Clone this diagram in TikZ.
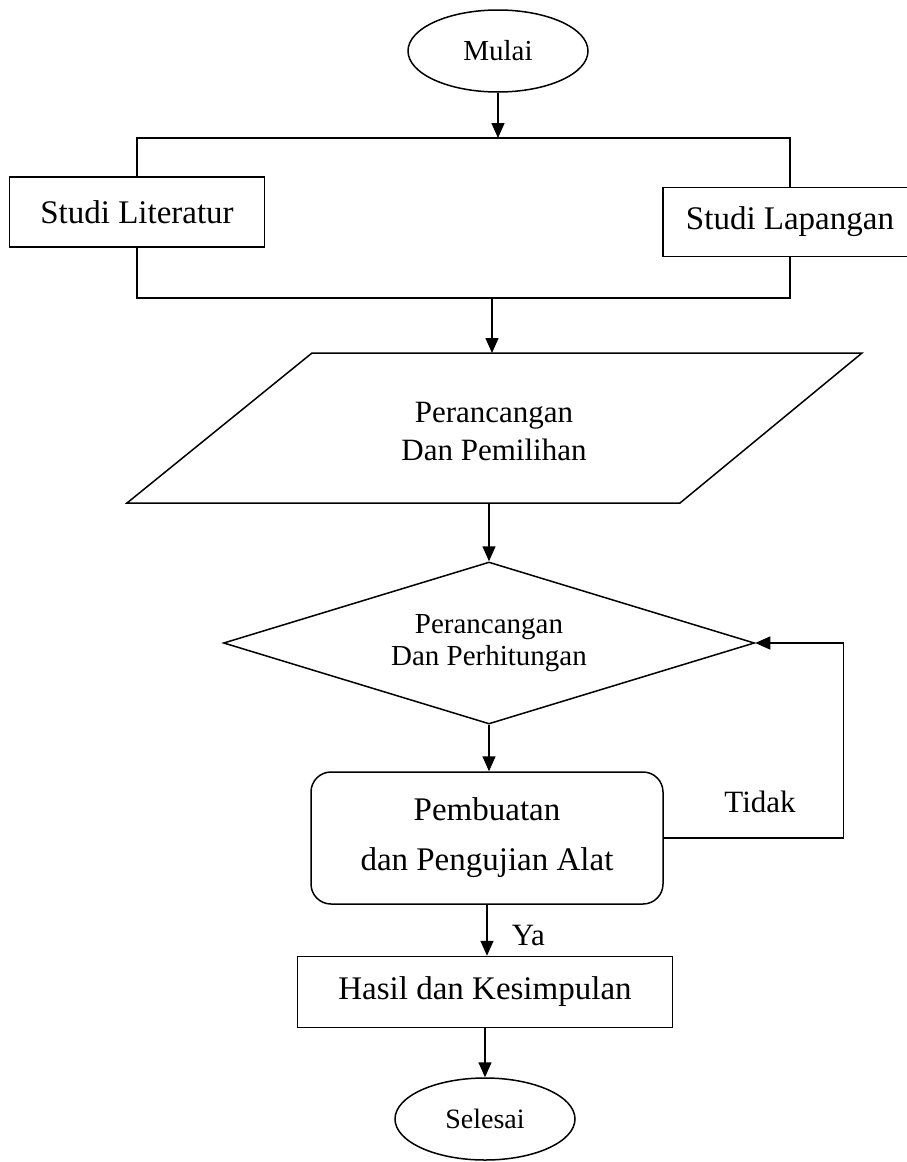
\documentclass[tikz,border=0pt]{standalone}
\usepackage{fontspec}
\setmainfont{Liberation Serif}
\usetikzlibrary{arrows.meta,positioning,shapes.geometric,calc}

\begin{document}
\begin{tikzpicture}[x=1pt,y=-1pt,line width=1.5pt,>={Triangle[length=15pt,width=13pt]},
        term/.style={draw,ellipse,fill=white,inner sep=0pt,minimum width=180pt,minimum height=82pt},
        proc/.style={draw,fill=white,inner sep=0pt,font=\fontsize{33}{40}\selectfont},
        dec/.style={draw,diamond,fill=white,inner sep=0pt,align=center,shape aspect=3.28,
                   minimum width=531pt,minimum height=162pt,font=\fontsize{29}{32}\selectfont},
        act/.style={draw,rounded corners=20pt,fill=white,inner sep=0pt,align=center,
                   minimum width=352pt,minimum height=132pt,font=\fontsize{33}{50}\selectfont},
        lbl/.style={inner sep=0pt,font=\fontsize{31}{37}\selectfont}]
  \fill[white] (0,0) rectangle (907,1162);
  \useasboundingbox (0,0) rectangle (907,1162);
  % start and the two studies
  \node[term,font=\fontsize{29}{34}\selectfont] (mulai) at (498,51) {Mulai};
  \coordinate (tl) at (137,138);
  \coordinate (tr) at (790,138);
  \coordinate (br) at (790,298);
  \coordinate (bl) at (137,298);
  \draw (tl) -- (tr) -- (br) -- (bl) -- cycle;
  \node[proc,minimum width=255pt,minimum height=70pt] (lit) at (137,212) {Studi Literatur};
  \node[proc,minimum width=254pt,minimum height=69pt] (lap) at (790,222) {Studi Lapangan};
  \draw[->] (mulai.south) -- (mulai.south |- tl);
  % design and selection
  \coordinate (pTL) at (312,353);
  \coordinate (pTR) at (862,353);
  \coordinate (pBR) at (680,503);
  \coordinate (pBL) at (127,503);
  \draw (pTL) -- (pTR) -- (pBR) -- (pBL) -- cycle;
  \node[align=center,inner sep=0pt,font=\fontsize{31}{38}\selectfont] (pilih) at (494,431)
       {Perancangan\\Dan Pemilihan};
  \coordinate (join) at (492,298);
  \draw[->] (join) -- (join |- pTL);
  % calculation, build and test
  \node[dec] (hitung) at (489,643) {Perancangan\\Dan Perhitungan};
  \draw[->] (hitung.north |- pBL) -- (hitung.north);
  \node[act] (buat) at (487,838) {Pembuatan\\dan Pengujian Alat};
  \draw[->] (hitung.south) -- (hitung.south |- buat.north);
  \coordinate (fb) at ($(hitung.east)+(88,0)$);
  \draw[->] (buat.east) -| (fb) -- (hitung.east);
  \node[lbl,anchor=base] (tidak) at (760,812) {Tidak};
  % result and end
  \node[proc,minimum width=375pt,minimum height=71pt] (hasil) at (485,992) {Hasil dan Kesimpulan};
  \draw[->] (buat.south) -- (buat.south |- hasil.north);
  \node[lbl,anchor=base west] (ya) at ($(buat.south)+(24,41)$) {Ya};
  \node[term,font=\fontsize{28}{32}\selectfont] (selesai) at (485,1119) {Selesai};
  \draw[->] (hasil.south) -- (hasil.south |- selesai.north);
\end{tikzpicture}
\end{document}
